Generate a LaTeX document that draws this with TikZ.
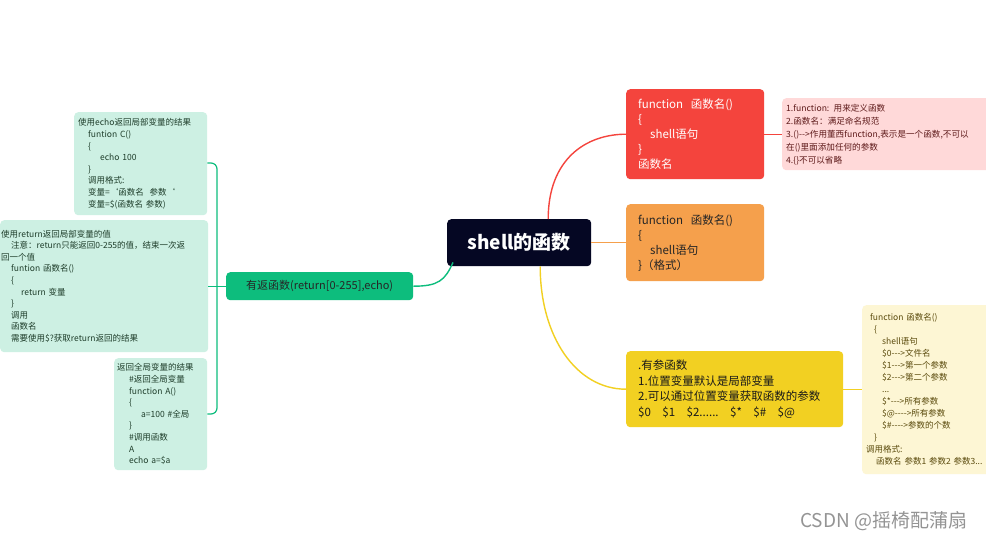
\documentclass[tikz,border=0pt]{standalone}
\usepackage{fontspec}
\setmainfont{Noto Sans CJK SC}[Ligatures=ResetAll]
\definecolor{navy}{HTML}{050723}
\definecolor{redc}{HTML}{F4443D}
\definecolor{pinkc}{HTML}{FFD9D9}
\definecolor{pinkt}{HTML}{5E1A1A}
\definecolor{orangec}{HTML}{F5A04C}
\definecolor{yellowc}{HTML}{F2D022}
\definecolor{ynote}{HTML}{FDF6D4}
\definecolor{ytext}{HTML}{5A4A0C}
\definecolor{greenc}{HTML}{0DBD7D}
\definecolor{gnote}{HTML}{CDF0E3}
\definecolor{gtext}{HTML}{1E3D2A}
\newcommand{\ind}[1]{\hspace*{#1pt}}
\tikzset{
  box/.style={anchor=north west, rounded corners=4pt, align=left, inner ysep=0pt},
  gbox/.style={box, fill=gnote, text=gtext, font=\fontsize{8.5}{11.6}\selectfont},
  link/.style={line width=1.4pt},
}
\begin{document}
\begin{tikzpicture}[x=1pt,y=-1pt]
\useasboundingbox[fill=white] (0,0) rectangle (986,539);
% main nodes
\node[box, fill=navy, text=white, minimum width=144pt, minimum height=47pt, align=center, font=\fontsize{19}{22}\selectfont\bfseries] (c) at (447,219) {shell的函数};
\node[box, fill=redc, text=white, text width=114pt, inner xsep=12pt, minimum height=90pt, font=\fontsize{11.5}{15}\selectfont] (r) at (626,89)
{function\ \ 函数名()\\
{\{}\\
\ind{12}shell语句\\
\}\\
函数名};
\node[box, fill=pinkc, text=pinkt, text width=240pt, inner xsep=4pt, minimum height=72pt, font=\fontsize{8.6}{13}\selectfont] (p) at (782,98)
{1.function: 用来定义函数\\
2.函数名：满足命名规范\\
3.()-{}->作用董西function,表示是一个函数,不可以\\
在()里面添加任何的参数\\
4.\{\}不可以省略};
\node[box, fill=orangec, text=black!85, text width=114pt, inner xsep=12pt, minimum height=77pt, font=\fontsize{11.5}{15}\selectfont] (o) at (626,204)
{function\ \ 函数名()\\
\{\\
\ind{12}shell语句\\
\}（格式）};
\node[box, fill=yellowc, text=black!90, text width=193pt, inner xsep=12pt, minimum height=76pt, font=\fontsize{11.5}{15.8}\selectfont] (y) at (626,351)
{.有参函数\\
1.位置变量默认是局部变量\\
2.可以通过位置变量获取函数的参数\\
\$0\ \ \ \$1\ \ \ \$2......\ \ \ \$*\ \ \ \$\#\ \ \ \$@};
\node[box, fill=ynote, text=ytext, text width=200pt, inner xsep=4pt, minimum height=169pt, font=\fontsize{8.5}{12}\selectfont] (yn) at (862,305)
{\ind{4}function 函数名()\\
\ind{8}\{\\
\ind{16}shell语句\\
\ind{16}\$0-{}-{}->文件名\\
\ind{16}\$1-{}-{}->第一个参数\\
\ind{16}\$2-{}-{}->第二个参数\\
\ind{16}...\\
\ind{16}\$*-{}-{}->所有参数\\
\ind{16}\$@-{}-{}-{}->所有参数\\
\ind{16}\$\#-{}-{}-{}->参数的个数\\
\ind{8}\}\\
调用格式:\\
\ind{10}函数名 参数1 参数2 参数3...};
\node[box, fill=greenc, text=black!85, minimum width=187pt, minimum height=28pt, align=center, font=\fontsize{11}{13}\selectfont] (g) at (226,272) {有返函数(return[0-255],echo)};
% notes on the left
\node[gbox, text width=125pt, inner xsep=4pt, minimum height=103pt] (n1) at (74,112)
{使用echo返回局部变量的结果\\
\ind{10}funtion C()\\
\ind{10}\{\\
\ind{22}echo 100\\
\ind{10}\}\\
\ind{10}调用格式:\\
\ind{10}变量=`函数名\ \ 参数`\\
\ind{10}变量=\$(函数名 参数)};
\node[gbox, text width=206pt, inner xsep=1pt, minimum height=132pt] (n2) at (0,220)
{使用return返回局部变量的值\\
\ind{10}注意：return只能返回0-255的值，结束一次返\\
回一个值\\
\ind{10}funtion 函数名()\\
\ind{10}\{\\
\ind{20}return 变量\\
\ind{10}\}\\
\ind{10}调用\\
\ind{10}函数名\\
\ind{10}需要使用\$?获取return返回的结果};
\node[gbox, text width=87pt, inner xsep=3pt, minimum height=112pt] (n3) at (114,358)
{返回全局变量的结果\\
\ind{12}\#返回全局变量\\
\ind{12}function A()\\
\ind{12}\{\\
\ind{24}a=100 \#全局\\
\ind{12}\}\\
\ind{12}\#调用函数\\
\ind{12}A\\
\ind{12}echo a=\$a};
% watermark
\node[text=black!42, font=\fontsize{19}{21}\selectfont, anchor=west, inner sep=0pt] (wm) at (800,521) {CSDN @摇椅配蒲扇};
% connectors
\draw[link, draw=redc] ([xshift=29pt]c.north) .. controls +(0,-60) and +(-40,0) .. (r.west);
\draw[link, draw=orangec] (c.east) -- (o.west);
\draw[link, draw=yellowc] ([xshift=21pt]c.south) .. controls +(0,70) and +(-50,0) .. (y.west);
\draw[link, draw=greenc] ([xshift=6pt,yshift=4pt]c.south west) .. controls +(-8,18) and +(25,0) .. (g.east);
\draw[link, draw=redc] (r.east) -- (p.west |- r.east);
\draw[link, draw=yellowc] (y.east) -- (yn.west |- y.east);
\coordinate (bx) at (217,286);
\draw[link, draw=greenc, line width=1.2pt] (g.west) -- (n2.east |- g.west);
\draw[link, draw=greenc, line width=1.2pt, rounded corners=6pt] (n1.east |- 0,163) -- (bx |- 0,163) -- (bx |- 0,414) -- (n3.east |- 0,414);
\end{tikzpicture}
\end{document}
